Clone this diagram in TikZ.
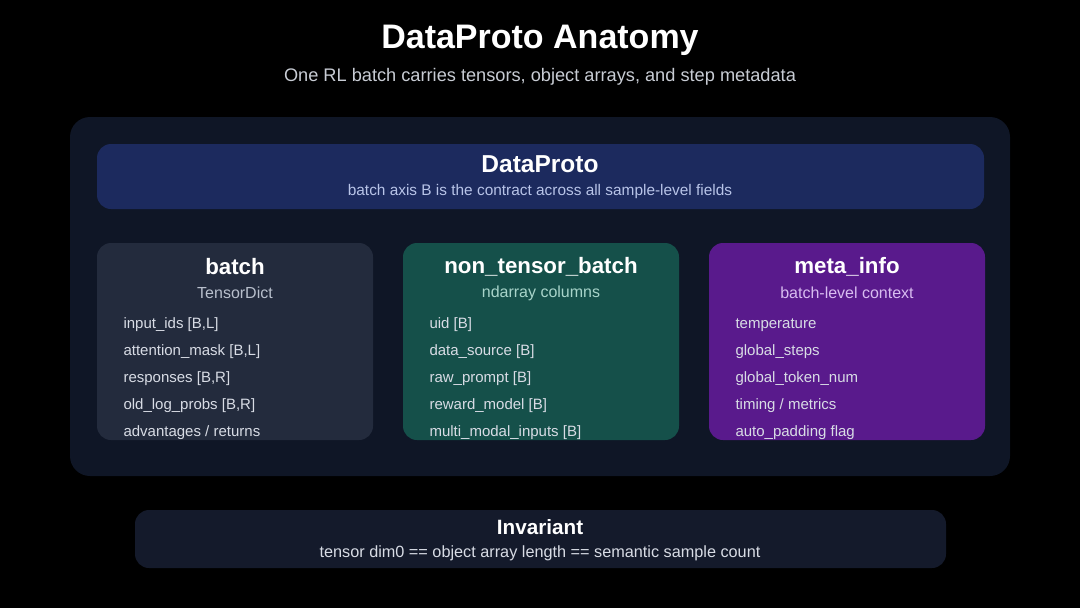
\documentclass[tikz,border=0pt]{standalone}
\usepackage{fontspec}
\setmainfont{Liberation Sans}
\definecolor{bg}{HTML}{000000}
\definecolor{panel}{HTML}{0F1626}
\definecolor{dpbox}{HTML}{1C2A5E}
\definecolor{batchc}{HTML}{232B3D}
\definecolor{ntbc}{HTML}{15504A}
\definecolor{metac}{HTML}{591A8C}
\definecolor{invc}{HTML}{141A2B}
\definecolor{itemc}{HTML}{D8DCE5}
\definecolor{subb}{HTML}{B8BFCC}
\definecolor{subn}{HTML}{A8D4CA}
\definecolor{subm}{HTML}{D8BCF0}
\definecolor{subdp}{HTML}{B8C4E8}
\definecolor{subt}{HTML}{C8CCD4}
\newcommand{\fs}[1]{\fontsize{#1}{#1}\selectfont}
\begin{document}
\begin{tikzpicture}[x=1pt,y=-1pt,
  box/.style={rounded corners=14pt},
  ttl/.style={text=white,font=\fs{22.3}\bfseries,anchor=center},
  sub/.style={font=\fs{16},anchor=center},
  item/.style={text=itemc,font=\fs{15},anchor=west}]
\useasboundingbox (0,0) rectangle (1080,608);
\fill[bg] (0,0) rectangle (1080,608);
\node[text=white,font=\fs{34}\bfseries] (title) at (540,40) {DataProto Anatomy};
\node[text=subt,font=\fs{18.2}] (subtitle) at (540,77) {One RL batch carries tensors, object arrays, and step metadata};
% outer panel
\fill[panel,rounded corners=20pt] (70,117) rectangle (1010,476);
% DataProto header
\fill[dpbox,box] (97,144) rectangle (984,209);
\node[text=white,font=\fs{24.5}\bfseries] (dp) at (540,164) {DataProto};
\node[text=subdp,font=\fs{15.4}] (dpsub) at (540,192) {batch axis B is the contract across all sample-level fields};
% columns
\fill[batchc,box] (97,243) rectangle (373,440);
\fill[ntbc,box] (403,243) rectangle (679,440);
\fill[metac,box] (709,243) rectangle (985,440);
\node[ttl] (bt) at (235,267) {batch};
\node[sub,text=subb] (bs) at (235,293) {TensorDict};
\node[ttl] (nt) at (541,267) {non\_tensor\_batch};
\node[sub,text=subn] (ns) at (541,293) {ndarray columns};
\node[ttl] (mt) at (847,267) {meta\_info};
\node[sub,text=subm] (ms) at (847,293) {batch-level context};
\foreach \t [count=\i from 0] in {{input\_ids [B,L]},{attention\_mask [B,L]},{responses [B,R]},{old\_log\_probs [B,R]},{advantages / returns}}
  \node[item] (b\i) at (120,325+27*\i) {\t};
\foreach \t [count=\i from 0] in {{uid [B]},{data\_source [B]},{raw\_prompt [B]},{reward\_model [B]},{multi\_modal\_inputs [B]}}
  \node[item] (n\i) at (426,325+27*\i) {\t};
\foreach \t [count=\i from 0] in {{temperature},{global\_steps},{global\_token\_num},{timing / metrics},{auto\_padding flag}}
  \node[item] (m\i) at (732,325+27*\i) {\t};
% invariant
\fill[invc,box] (135,510) rectangle (946,568);
\node[text=white,font=\fs{20.7}\bfseries] (inv) at (540,527) {Invariant};
\node[text=itemc,font=\fs{16.25}] (invs) at (540,553) {tensor dim0 == object array length == semantic sample count};
\end{tikzpicture}
\end{document}
